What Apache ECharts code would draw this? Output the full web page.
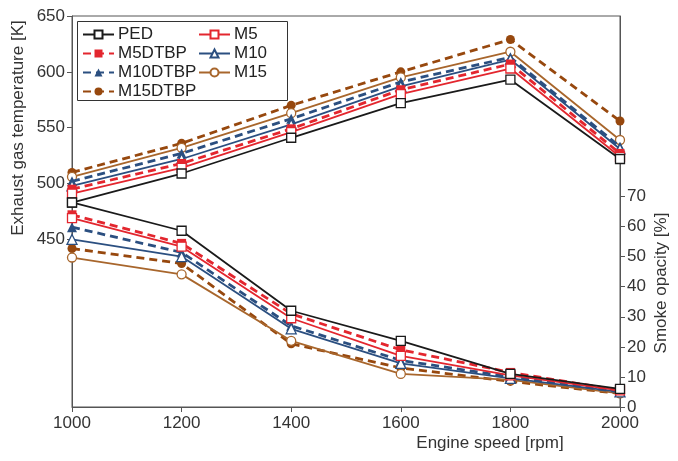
<!DOCTYPE html>
<html>
<head>
<meta charset="utf-8">
<script src="https://cdn.jsdelivr.net/npm/echarts@6/dist/echarts.min.js"></script>
<style>html,body{margin:0;padding:0;background:#fff}#c{width:678px;height:461px}</style>
</head>
<body>
<div id="c"></div>
<script>
// ---- data ----
const speeds = [1000, 1200, 1400, 1600, 1800, 2000];
const fuels = ['PED', 'M5', 'M5DTBP', 'M10', 'M10DTBP', 'M15', 'M15DTBP'];
// exhaust gas temperature [K]
const tempPED     = [483, 509, 541, 572, 593, 522];
const tempM5      = [491, 514, 546, 580, 603, 524];
const tempM5DTBP  = [495, 518, 549, 584, 607, 527];
const tempM10     = [498, 522, 553, 587, 611, 531];
const tempM10DTBP = [502, 527, 558, 591, 613, 533];
const tempM15     = [506, 532, 563, 595, 618, 539];
const tempM15DTBP = [510, 536, 570, 600, 629, 556];
// smoke opacity [%]
const smokePED     = [68, 58.6, 32, 22, 11, 6];
const smokeM5      = [62.8, 53.3, 29.5, 17, 10.5, 5.5];
const smokeM5DTBP  = [63.9, 54.4, 31, 19, 11.5, 5.5];
const smokeM10     = [55.7, 50, 26, 14.5, 9.5, 5];
const smokeM10DTBP = [59.8, 51.4, 27, 15.5, 10, 5];
const smokeM15     = [49.7, 44.1, 22, 11, 9, 4.5];
const smokeM15DTBP = [52.7, 47.7, 21, 13, 8.5, 4.5];
const leftTicks = [450, 500, 550, 600, 650];
const rightTicks = [0, 10, 20, 30, 40, 50, 60, 70];

const temps = {PED: tempPED, M5: tempM5, M5DTBP: tempM5DTBP, M10: tempM10, M10DTBP: tempM10DTBP, M15: tempM15, M15DTBP: tempM15DTBP};
const smokes = {PED: smokePED, M5: smokeM5, M5DTBP: smokeM5DTBP, M10: smokeM10, M10DTBP: smokeM10DTBP, M15: smokeM15, M15DTBP: smokeM15DTBP};

// ---- styles ----
const styles = {
  PED:     {color: '#1a1a1a', dash: 'solid',  symbol: 'rect',     open: true,  w: 1.8},
  M5:      {color: '#e3262e', dash: 'solid',  symbol: 'rect',     open: true,  w: 1.8},
  M5DTBP:  {color: '#e3262e', dash: [8, 5],   symbol: 'rect',     open: false, w: 2.8},
  M10:     {color: '#2b4f80', dash: 'solid',  symbol: 'triangle', open: true,  w: 1.8},
  M10DTBP: {color: '#2b4f80', dash: [8, 5],   symbol: 'triangle', open: false, w: 2.8},
  M15:     {color: '#a8662c', dash: 'solid',  symbol: 'circle',   open: true,  w: 1.8},
  M15DTBP: {color: '#97480e', dash: [8, 5],   symbol: 'circle',   open: false, w: 2.8}
};

const order = ['M15DTBP', 'M15', 'M10DTBP', 'M10', 'M5DTBP', 'M5', 'PED'];
const series = [];
order.forEach(function (f, i) {
  const s = styles[f];
  [[temps[f], 0], [smokes[f], 1]].forEach(function (pair) {
    series.push({
      name: f,
      type: 'line',
      yAxisIndex: pair[1],
      data: speeds.map(function (x, k) { return [x, pair[0][k]]; }),
      symbol: s.symbol,
      symbolSize: s.symbol === 'triangle' ? 10 : 9,
      showAllSymbol: true,
      z: 2 + i,
      lineStyle: {color: s.color, width: s.w, type: s.dash},
      itemStyle: {color: s.open ? '#ffffff' : s.color, borderColor: s.color, borderWidth: s.open ? 1.3 : 0},
      emphasis: {disabled: true},
      animation: false
    });
  });
});

const font = 'Liberation Sans, Arial, sans-serif';
const chart = echarts.init(document.getElementById('c'), null, {renderer: 'canvas'});
chart.setOption({
  backgroundColor: '#ffffff',
  animation: false,
  grid: {left: 72, right: 58, top: 16, bottom: 54, show: true, borderColor: '#555', borderWidth: 1},
  legend: [
    {
      data: ['PED', 'M5DTBP', 'M10DTBP', 'M15DTBP'],
      orient: 'vertical', left: 77, top: 21, itemGap: 2, itemWidth: 31, itemHeight: 10,
      textStyle: {fontFamily: font, fontSize: 17, color: '#222', lineHeight: 17, padding: [0, 0, 0, -1]},
      selectedMode: false
    },
    {
      data: ['M5', 'M10', 'M15'],
      orient: 'vertical', left: 193, top: 21, itemGap: 2, itemWidth: 31, itemHeight: 10,
      textStyle: {fontFamily: font, fontSize: 17, color: '#222', lineHeight: 17, padding: [0, 0, 0, -1]},
      selectedMode: false
    }
  ],
  xAxis: {
    type: 'value', min: 1000, max: 2000, interval: 200,
    axisLine: {show: true, lineStyle: {color: '#555', width: 1}},
    axisTick: {show: true, length: 5, lineStyle: {color: '#555'}},
    axisLabel: {fontFamily: font, fontSize: 17, color: '#333', margin: 8, formatter: function (v) { return String(v); }},
    splitLine: {show: false}
  },
  yAxis: [
    {
      type: 'value', min: 300, max: 650, interval: 50, position: 'left',
      axisLine: {show: true, lineStyle: {color: '#555', width: 1}},
      axisTick: {show: true, length: 5, lineStyle: {color: '#555'}, customValues: leftTicks},
      axisLabel: {fontFamily: font, fontSize: 17, color: '#333', margin: 7, customValues: leftTicks},
      splitLine: {show: false}
    },
    {
      type: 'value', min: 0, max: 130, interval: 10, position: 'right',
      axisLine: {show: true, lineStyle: {color: '#555', width: 1}},
      axisTick: {show: true, length: 5, lineStyle: {color: '#555'}, customValues: rightTicks},
      axisLabel: {fontFamily: font, fontSize: 17, color: '#333', margin: 7, customValues: rightTicks},
      splitLine: {show: false}
    }
  ],
  graphic: [
    {type: 'rect', left: 75, top: 19, shape: {width: 210, height: 79}, style: {fill: 'none', stroke: '#333', lineWidth: 1}, z: 100},
    {type: 'text', x: 18, y: 128, rotation: Math.PI / 2, style: {text: 'Exhaust gas temperature [K]', fontFamily: font, fontSize: 17, fill: '#333', align: 'center', verticalAlign: 'middle'}},
    {type: 'text', x: 661, y: 283, rotation: Math.PI / 2, style: {text: 'Smoke opacity [%]', fontFamily: font, fontSize: 17, fill: '#333', align: 'center', verticalAlign: 'middle'}},
    {type: 'text', x: 490, y: 443, style: {text: 'Engine speed [rpm]', fontFamily: font, fontSize: 17, fill: '#333', align: 'center', verticalAlign: 'middle'}}
  ],
  series: series
});
</script>
</body>
</html>
